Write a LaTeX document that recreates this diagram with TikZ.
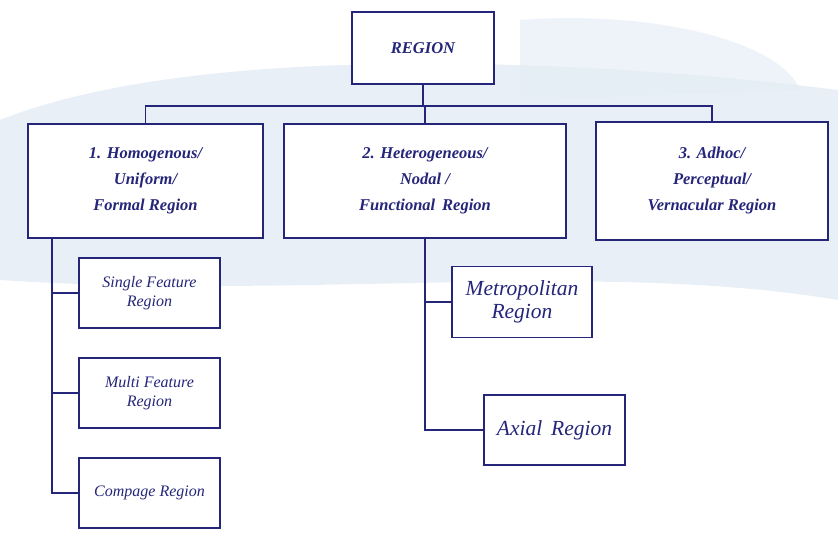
\documentclass[tikz,border=0pt]{standalone}
\usepackage{fontspec}
\setmainfont{Liberation Serif}
\begin{document}
\begin{tikzpicture}[x=1pt,y=-1pt,
  box/.style={draw=navy,line width=1.6pt,fill=white,inner sep=0pt,align=center,text=navy,font=\itshape\bfseries\fontsize{16.5}{26}\selectfont},
  sub/.style={box,font=\itshape\fontsize{16}{19}\selectfont},
  big/.style={box,font=\itshape\fontsize{21.5}{23}\selectfont},
  ln/.style={draw=navy,line width=1.6pt}]
\definecolor{navy}{HTML}{25257A}
\definecolor{wash}{HTML}{E3ECF5}
\useasboundingbox (0,0) rectangle (838,542);
\fill[white] (0,0) rectangle (838,542);
\fill[wash,opacity=0.8] (0,120) .. controls (200,40) and (600,60) .. (838,90) -- (838,300) .. controls (600,260) and (300,300) .. (0,280) -- cycle;
\fill[wash,opacity=0.6] (520,20) .. controls (650,10) and (780,40) .. (800,90) -- (520,100) -- cycle;
\node[box,minimum width=142pt,minimum height=72pt] (r) at (423,48) {REGION};
\node[box,minimum width=235pt,minimum height=114pt] (a) at (145.5,181) {1. Homogenous/\\Uniform/\\Formal Region};
\node[box,minimum width=282pt,minimum height=114pt] (b) at (425,181) {2. Heterogeneous/\\Nodal /\\Functional\, Region};
\node[box,minimum width=232pt,minimum height=118pt] (c) at (712,181) {3. Adhoc/\\Perceptual/\\Vernacular Region};
\node[sub,minimum width=141pt,minimum height=70pt] (s1) at (149.5,293) {Single Feature\\Region};
\node[sub,minimum width=141pt,minimum height=70pt] (s2) at (149.5,393) {Multi Feature\\Region};
\node[sub,minimum width=141pt,minimum height=70pt] (s3) at (149.5,493) {Compage Region};
\node[big,minimum width=140pt,minimum height=71pt] (m) at (522,302) {Metropolitan\\Region};
\node[big,minimum width=141pt,minimum height=70pt] (x) at (554.5,430) {Axial\, Region};
\coordinate (j) at (423,106);
\draw[ln] (r.south) -- (j);
\draw[ln] (a.north) |- (j) -| (c.north);
\draw[ln] (b.north) -- (b.north |- j);
\coordinate (t1) at (52,238);
\draw[ln] (t1) |- (s3.west);
\draw[ln] (52,293) -- (s1.west);
\draw[ln] (52,393) -- (s2.west);
\draw[ln] (b.south) |- (x.west);
\draw[ln] (425,302) -- (m.west);
\end{tikzpicture}
\end{document}
